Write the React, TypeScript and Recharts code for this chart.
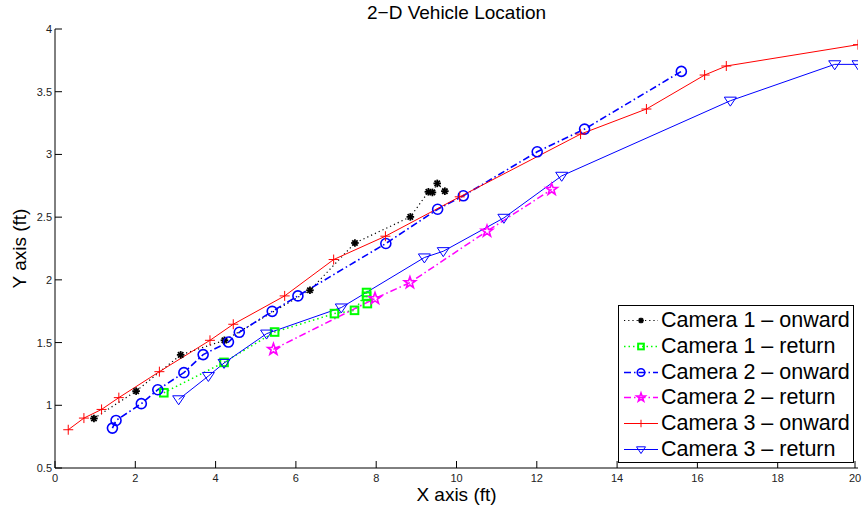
import React from "react";
import { Line, LineChart, XAxis, YAxis } from "recharts";

const xTicks = [0, 2, 4, 6, 8, 10, 12, 14, 16, 18, 20];
const yTicks = [0.5, 1, 1.5, 2, 2.5, 3, 3.5, 4];

const cam1OnX = [0.97, 2.02, 3.13, 4.22, 6.35, 7.47, 8.85, 9.3, 9.4, 9.52, 9.71];
const cam1OnY = [0.895, 1.113, 1.402, 1.518, 1.917, 2.294, 2.502, 2.702, 2.697, 2.769, 2.707];

const cam1RetX = [2.71, 4.21, 5.47, 6.96, 7.46, 7.76, 7.76, 7.78];
const cam1RetY = [1.1, 1.342, 1.584, 1.731, 1.757, 1.899, 1.869, 1.811];

const cam2OnX = [1.43, 1.52, 2.15, 2.56, 3.21, 3.69, 4.32, 4.59, 5.41, 6.05, 8.24, 9.53, 10.17, 12.01, 13.19, 15.6];
const cam2OnY = [0.818, 0.879, 1.013, 1.124, 1.26, 1.404, 1.504, 1.582, 1.749, 1.872, 2.29, 2.563, 2.67, 3.021, 3.202, 3.662];

const cam2RetX = [5.44, 7.97, 8.84, 10.76, 12.37];
const cam2RetY = [1.446, 1.851, 1.978, 2.388, 2.721];

const cam3OnX = [0.33, 0.72, 1.16, 1.59, 2.6, 3.86, 4.44, 5.72, 6.94, 8.23, 10.08, 13.09, 14.73, 16.18, 16.72, 20];
const cam3OnY = [0.805, 0.898, 0.967, 1.061, 1.268, 1.518, 1.646, 1.872, 2.162, 2.348, 2.662, 3.162, 3.362, 3.633, 3.705, 3.875];

const cam3RetX = [3.08, 3.82, 4.21, 5.27, 7.13, 9.2, 9.67, 11.18, 12.62, 16.82, 19.42, 20];
const cam3RetY = [1.047, 1.233, 1.337, 1.571, 1.779, 2.178, 2.228, 2.494, 2.829, 3.428, 3.718, 3.718];

const zip = (xs: number[], ys: number[]) => xs.map((x, i) => ({ x, y: ys[i] }));

type Kind = "asterisk" | "square" | "circle" | "star" | "plus" | "tri";

const series: Array<{
  name: string;
  data: Array<{ x: number; y: number }>;
  color: string;
  kind: Kind;
  dash?: string;
  width: number;
}> = [
  { name: "Camera 1 \u2013 onward", data: zip(cam1OnX, cam1OnY), color: "#000000", kind: "asterisk", dash: "1.2 3", width: 1.2 },
  { name: "Camera 1 \u2013 return", data: zip(cam1RetX, cam1RetY), color: "#00ff00", kind: "square", dash: "1.5 3", width: 1.5 },
  { name: "Camera 2 \u2013 onward", data: zip(cam2OnX, cam2OnY), color: "#0000ff", kind: "circle", dash: "7 3 1.5 3", width: 1.6 },
  { name: "Camera 2 \u2013 return", data: zip(cam2RetX, cam2RetY), color: "#ff00ff", kind: "star", dash: "7 3 1.5 3", width: 1.5 },
  { name: "Camera 3 \u2013 onward", data: zip(cam3OnX, cam3OnY), color: "#ff0000", kind: "plus", width: 1 },
  { name: "Camera 3 \u2013 return", data: zip(cam3RetX, cam3RetY), color: "#0000ff", kind: "tri", width: 1 },
];

function Marker({ kind, cx, cy, color, s = 1 }: { kind: Kind; cx: number; cy: number; color: string; s?: number }) {
  switch (kind) {
    case "asterisk": {
      const r = 3.8 * s;
      const d = r * 0.7071;
      return (
        <g stroke={color} strokeWidth={1.8}>
          <line x1={cx - r} y1={cy} x2={cx + r} y2={cy} />
          <line x1={cx} y1={cy - r} x2={cx} y2={cy + r} />
          <line x1={cx - d} y1={cy - d} x2={cx + d} y2={cy + d} />
          <line x1={cx - d} y1={cy + d} x2={cx + d} y2={cy - d} />
        </g>
      );
    }
    case "square": {
      const h = 3.8 * s;
      return <rect x={cx - h} y={cy - h} width={2 * h} height={2 * h} fill="none" stroke={color} strokeWidth={2} />;
    }
    case "circle":
      return <circle cx={cx} cy={cy} r={5 * s} fill="none" stroke={color} strokeWidth={1.6} />;
    case "star": {
      const R = 6 * s;
      const r0 = R * 0.4;
      const pts: string[] = [];
      for (let i = 0; i < 10; i++) {
        const a = -Math.PI / 2 + (i * Math.PI) / 5;
        const rr = i % 2 === 0 ? R : r0;
        pts.push(`${cx + rr * Math.cos(a)},${cy + rr * Math.sin(a)}`);
      }
      return <polygon points={pts.join(" ")} fill="none" stroke={color} strokeWidth={1.6} />;
    }
    case "plus": {
      const r = 5 * s;
      return (
        <g stroke={color} strokeWidth={1}>
          <line x1={cx - r} y1={cy} x2={cx + r} y2={cy} />
          <line x1={cx} y1={cy - r} x2={cx} y2={cy + r} />
        </g>
      );
    }
    case "tri": {
      const r = 6 * s;
      return (
        <polygon
          points={`${cx - r},${cy - r * 0.6} ${cx + r},${cy - r * 0.6} ${cx},${cy + r * 0.9}`}
          fill="none"
          stroke={color}
          strokeWidth={1}
        />
      );
    }
  }
  return null;
}

const makeDot = (kind: Kind, color: string) => (props: any) => {
  const { cx, cy, index } = props;
  if (cx == null || cy == null) return <g key={`e-${index}`} />;
  return (
    <g key={`${kind}-${index}`}>
      <Marker kind={kind} cx={cx} cy={cy} color={color} />
    </g>
  );
};

const TICK = 7;
const font = "Liberation Sans, Arial, Helvetica, sans-serif";
const labelFont = { fontSize: 11, fill: "#222", fontFamily: font };

const BottomTick = (p: any) => (
  <g>
    <line x1={p.x} y1={p.y} x2={p.x} y2={p.y - TICK} stroke="#000" />
    <text x={p.x} y={p.y + 14} textAnchor="middle" {...labelFont}>
      {p.payload.value}
    </text>
  </g>
);
const TopTick = (p: any) => <line x1={p.x} y1={p.y} x2={p.x} y2={p.y + TICK} stroke="#000" />;
const LeftTick = (p: any) => (
  <g>
    <line x1={p.x} y1={p.y} x2={p.x + TICK} y2={p.y} stroke="#000" />
    <text x={p.x - 3} y={p.y + 4} textAnchor="end" {...labelFont}>
      {p.payload.value}
    </text>
  </g>
);
const RightTick = (p: any) => <line x1={p.x} y1={p.y} x2={p.x - TICK} y2={p.y} stroke="#000" />;

export default function App() {
  return (
    <div style={{ position: "absolute", left: 0, top: 0, width: 863, height: 508, background: "#fff", fontFamily: font }}>
      <LineChart width={863} height={508} margin={{ top: 29, right: 5, bottom: 0, left: 0 }}>
        <XAxis
          xAxisId="b"
          type="number"
          dataKey="x"
          domain={[0, 20]}
          ticks={xTicks}
          allowDataOverflow
          height={40}
          tickSize={0}
          tickMargin={0}
          tick={BottomTick}
          stroke="#000"
          label={{ value: "X axis (ft)", position: "insideBottom", offset: 7, fontSize: 19, fill: "#000", fontFamily: font }}
        />
        <XAxis
          xAxisId="t"
          orientation="top"
          type="number"
          dataKey="x"
          domain={[0, 20]}
          ticks={xTicks}
          height={0}
          tickSize={0}
          tickMargin={0}
          tick={TopTick}
          stroke="#000"
        />
        <YAxis
          yAxisId="l"
          type="number"
          domain={[0.5, 4]}
          ticks={yTicks}
          allowDataOverflow
          width={55}
          tickSize={0}
          tickMargin={0}
          tick={LeftTick}
          stroke="#000"
          label={{ value: "Y axis (ft)", angle: -90, position: "insideLeft", offset: 19, fontSize: 19, fill: "#000", fontFamily: font, style: { textAnchor: "middle" } }}
        />
        <YAxis
          yAxisId="r"
          orientation="right"
          type="number"
          domain={[0.5, 4]}
          ticks={yTicks}
          width={0}
          tickSize={0}
          tickMargin={0}
          tick={RightTick}
          stroke="#000"
        />
        {series.map((s) => (
          <Line
            key={s.name}
            xAxisId="b"
            yAxisId="l"
            data={s.data}
            dataKey="y"
            type="linear"
            stroke={s.color}
            strokeWidth={s.width}
            strokeDasharray={s.dash}
            dot={makeDot(s.kind, s.color)}
            activeDot={false}
            isAnimationActive={false}
          />
        ))}
      </LineChart>
      <div
        style={{
          position: "absolute",
          left: 0,
          top: 2,
          width: 913,
          textAlign: "center",
          fontSize: 19,
          color: "#000",
          lineHeight: "22px",
        }}
      >
        2{"\u2212"}D Vehicle Location
      </div>
      <div
        style={{
          position: "absolute",
          left: 618,
          top: 305,
          width: 234,
          height: 156,
          border: "1px solid #000",
          background: "#fff",
        }}
      >
        {series.map((s, i) => (
          <div key={s.name} style={{ position: "absolute", left: 0, top: 2 + i * 25.8, height: 25, width: 234 }}>
            <svg width={40} height={25} style={{ position: "absolute", left: 0, top: 0 }}>
              <line x1={5} y1={12.5} x2={39} y2={12.5} stroke={s.color} strokeWidth={s.width} strokeDasharray={s.dash} />
              <Marker kind={s.kind} cx={22} cy={12.5} color={s.color} s={0.75} />
            </svg>
            <span style={{ position: "absolute", left: 42, top: 0, fontSize: 21.5, lineHeight: "25px", whiteSpace: "nowrap", color: "#000" }}>
              {s.name}
            </span>
          </div>
        ))}
      </div>
    </div>
  );
}
